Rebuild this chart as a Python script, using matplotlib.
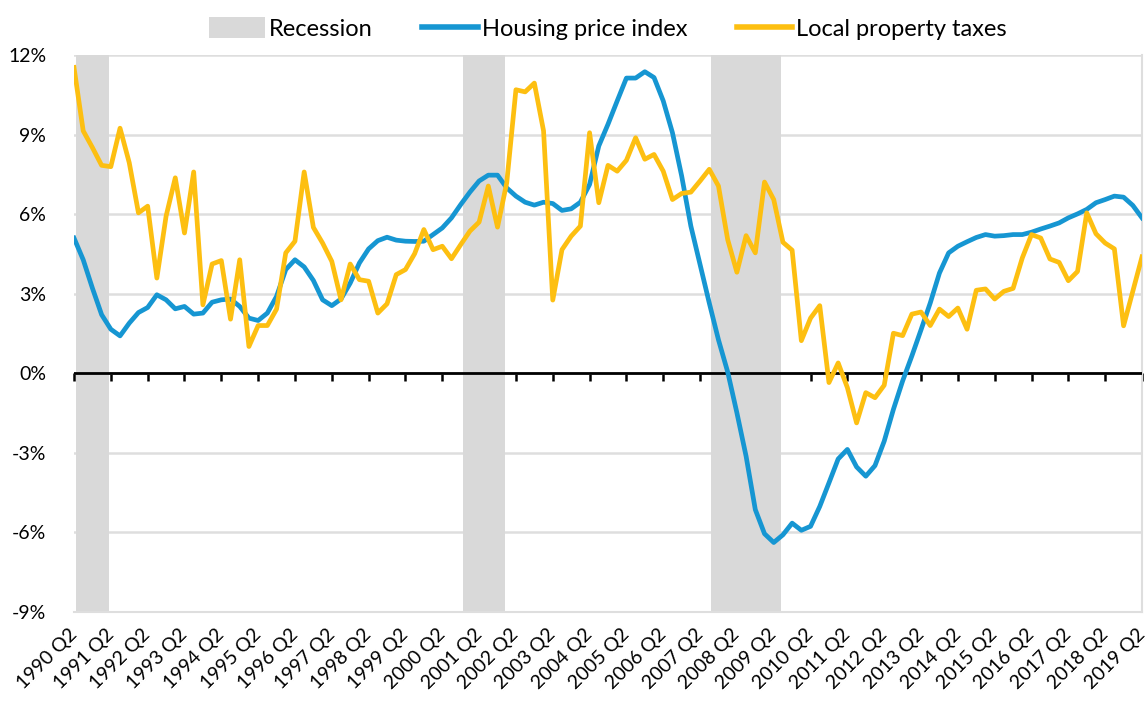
import matplotlib
matplotlib.use('Agg')
import matplotlib.pyplot as plt
import pandas as pd
from matplotlib.patches import Patch
from matplotlib.lines import Line2D

plt.rcParams['font.family'] = ['Lato', 'DejaVu Sans']
plt.rcParams['axes.unicode_minus'] = False

# Quarters 1990 Q2 .. 2019 Q2
quarters = [f"{p.year} Q{p.quarter}" for p in pd.period_range('1990Q2', '2019Q2', freq='Q')]

# Year-over-year growth (%)
housing = [5.10, 4.28, 3.21, 2.21, 1.66, 1.41, 1.89, 2.29, 2.48, 2.96,
           2.77, 2.43, 2.52, 2.23, 2.27, 2.68, 2.77, 2.80, 2.52, 2.08,
           1.99, 2.27, 2.90, 3.91, 4.28, 4.01, 3.50, 2.77, 2.55, 2.80,
           3.40, 4.16, 4.69, 5.00, 5.13, 5.02, 4.98, 4.97, 4.98, 5.23,
           5.48, 5.86, 6.36, 6.83, 7.25, 7.47, 7.47, 6.99, 6.68, 6.45,
           6.34, 6.45, 6.40, 6.14, 6.20, 6.45, 7.12, 8.57, 9.39, 10.27,
           11.13, 11.13, 11.37, 11.15, 10.27, 9.07, 7.44, 5.55, 4.10, 2.65,
           1.26, 0.05, -1.49, -3.13, -5.14, -6.05, -6.38, -6.09, -5.65, -5.92,
           -5.77, -5.02, -4.13, -3.23, -2.87, -3.53, -3.88, -3.48, -2.56, -1.36,
           -0.29, 0.65, 1.64, 2.65, 3.78, 4.54, 4.79, 4.96, 5.12, 5.23,
           5.17, 5.19, 5.23, 5.23, 5.32, 5.44, 5.55, 5.67, 5.86, 6.01,
           6.18, 6.43, 6.55, 6.68, 6.64, 6.33, 5.86]

taxes = [11.53, 9.14, 8.51, 7.84, 7.79, 9.24, 7.94, 6.05, 6.30, 3.59,
         5.92, 7.37, 5.29, 7.59, 2.58, 4.12, 4.25, 2.04, 4.28, 1.01,
         1.80, 1.80, 2.42, 4.54, 4.98, 7.59, 5.50, 4.91, 4.22, 2.77,
         4.12, 3.53, 3.47, 2.27, 2.62, 3.72, 3.91, 4.51, 5.42, 4.66,
         4.79, 4.32, 4.85, 5.36, 5.70, 7.06, 5.51, 7.18, 10.69, 10.61,
         10.94, 9.14, 2.76, 4.66, 5.17, 5.55, 9.07, 6.43, 7.84, 7.62,
         8.03, 8.88, 8.07, 8.25, 7.62, 6.55, 6.78, 6.83, 7.25, 7.69,
         7.06, 5.04, 3.81, 5.19, 4.54, 7.21, 6.55, 4.94, 4.64, 1.23,
         2.08, 2.55, -0.35, 0.39, -0.54, -1.87, -0.73, -0.92, -0.45, 1.51,
         1.42, 2.23, 2.31, 1.80, 2.42, 2.14, 2.46, 1.66, 3.13, 3.18,
         2.80, 3.09, 3.20, 4.35, 5.23, 5.10, 4.31, 4.18, 3.49, 3.84,
         6.05, 5.26, 4.91, 4.69, 1.79, 3.09, 4.39]

recessions = [("1990 Q3", "1991 Q1"), ("2001 Q1", "2001 Q4"), ("2007 Q4", "2009 Q2")]

yticks = [-9, -6, -3, 0, 3, 6, 9, 12]

blue = '#1696d2'
yellow = '#fdbf11'
grey = '#d9d9d9'

fig = plt.figure(figsize=(11.48, 7.06), dpi=100)
ax = fig.add_axes([74 / 1148, 1 - 612 / 706, 1068 / 1148, 557 / 706])

x = list(range(len(quarters)))

for start, end in recessions:
    ax.axvspan(quarters.index(start) - 0.8, quarters.index(end) + 0.8,
               color=grey, lw=0, zorder=1)

ax.axhline(0, color='black', lw=2, zorder=3)
ax.plot(x, housing, color=blue, lw=3.4, zorder=4, solid_joinstyle='round')
ax.plot(x, taxes, color=yellow, lw=3.4, zorder=5, solid_joinstyle='round')

ax.set_xlim(0, len(quarters) - 1)
ax.set_ylim(-9, 12)
ax.set_yticks(yticks)
ax.set_yticklabels([f"{v}%" for v in yticks])
ax.yaxis.grid(True, color='#dedede', lw=1.8, zorder=0)
ax.set_axisbelow(True)
ax.tick_params(axis='y', length=0, pad=20, labelsize=14)

ax.set_xticks(x[::4])
ax.set_xticklabels(quarters[::4], rotation=45, ha='right', va='center',
                   rotation_mode='anchor', fontsize=14)
ax.tick_params(axis='x', length=0, pad=14)

for side in ['top', 'bottom', 'left', 'right']:
    ax.spines[side].set_color('#dedede')
    ax.spines[side].set_linewidth(1.5)
ax.spines['left'].set_visible(False)
ax.spines['top'].set_visible(False)

# tick marks hanging below the zero line
secax = ax.secondary_xaxis(9 / 21)
secax.set_xticks(x[::4])
secax.tick_params(axis='x', direction='out', length=6, width=1.8, color='black',
                  labelbottom=False, labeltop=False)
secax.spines['bottom'].set_visible(False)
secax.spines['top'].set_visible(False)

handles = [Patch(facecolor=grey, edgecolor='none', label='Recession'),
           Line2D([], [], color=blue, lw=4, label='Housing price index'),
           Line2D([], [], color=yellow, lw=4, label='Local property taxes')]
ax.legend(handles=handles, loc='lower center', bbox_to_anchor=(0.5, 1.0),
          ncol=3, frameon=False, fontsize=17, handlelength=2.35, handleheight=0.95,
          handletextpad=0.17, columnspacing=2.1, borderaxespad=0.25)

fig.savefig('out.png', dpi=100)
